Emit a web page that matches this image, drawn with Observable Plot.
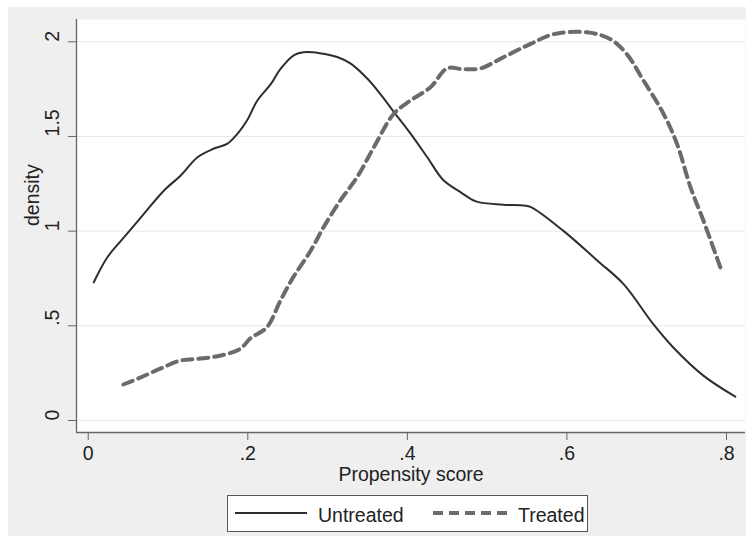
<!DOCTYPE html>
<html>
<head>
<meta charset="utf-8">
<script src="https://cdn.jsdelivr.net/npm/d3@7"></script>
<script src="https://cdn.jsdelivr.net/npm/@observablehq/plot@0.6"></script>
<style>
  html, body { margin: 0; padding: 0; background: #ffffff; }
  #wrap { position: relative; width: 747px; height: 536px; overflow: hidden; font-family: 'Liberation Sans', Arial, sans-serif; }
  #bg { position: absolute; left: 8px; top: 7px; width: 738px; height: 529px; background: #efefef; }
  #chart { position: absolute; left: 0; top: 0; }
  #legend { position: absolute; left: 227px; top: 495px; }
</style>
</head>
<body>
<div id="wrap">
  <div id="bg"></div>
  <div id="chart"></div>
  <svg id="legend" width="361" height="37"></svg>
</div>
<script>
// ---- data ----
const untreatedX = [0.007, 0.024, 0.045, 0.070, 0.095, 0.116, 0.137, 0.157, 0.174, 0.187, 0.199, 0.212, 0.229, 0.241, 0.258, 0.270, 0.290, 0.312, 0.329, 0.350, 0.366, 0.383, 0.404, 0.425, 0.445, 0.467, 0.486, 0.520, 0.546, 0.555, 0.596, 0.638, 0.671, 0.708, 0.733, 0.771, 0.811];
const untreatedY = [0.73, 0.862, 0.968, 1.092, 1.215, 1.294, 1.39, 1.435, 1.461, 1.514, 1.584, 1.69, 1.778, 1.857, 1.93, 1.945, 1.94, 1.92, 1.885, 1.805, 1.725, 1.63, 1.515, 1.39, 1.27, 1.205, 1.157, 1.14, 1.135, 1.127, 1.00, 0.845, 0.72, 0.51, 0.387, 0.237, 0.126];

const treatedX = [0.044, 0.066, 0.091, 0.116, 0.141, 0.166, 0.191, 0.203, 0.224, 0.241, 0.257, 0.279, 0.295, 0.316, 0.337, 0.358, 0.383, 0.404, 0.429, 0.450, 0.470, 0.492, 0.521, 0.555, 0.583, 0.625, 0.654, 0.675, 0.696, 0.721, 0.738, 0.755, 0.771, 0.793];
const treatedY = [0.19, 0.228, 0.275, 0.317, 0.327, 0.343, 0.38, 0.433, 0.493, 0.634, 0.757, 0.898, 1.021, 1.162, 1.285, 1.443, 1.62, 1.69, 1.76, 1.86, 1.855, 1.86, 1.92, 1.99, 2.04, 2.05, 2.015, 1.935, 1.795, 1.62, 1.46, 1.23, 1.056, 0.80];

const seriesNames = ["Untreated", "Treated"];
const xTicks = [0, 0.2, 0.4, 0.6, 0.8];
const xTickLabels = ["0", ".2", ".4", ".6", ".8"];
const yTicks = [0, 0.5, 1, 1.5, 2];
const yTickLabels = ["0", ".5", "1", "1.5", "2"];
const xLabel = "Propensity score";
const yLabel = "density";

// ---- build tables ----
const untreated = untreatedX.map((x, i) => ({x, y: untreatedY[i], group: seriesNames[0]}));
const treated = treatedX.map((x, i) => ({x, y: treatedY[i], group: seriesNames[1]}));

const xDomain = [-0.0147, 0.8238];
const yDomain = [-0.0634, 2.1177];
const FS = 19.5;
const axisColor = "#666666";

const chart = Plot.plot({
  width: 747,
  height: 490,
  marginLeft: 76,
  marginRight: 2,
  marginTop: 19,
  marginBottom: 58,
  x: {domain: xDomain},
  y: {domain: yDomain},
  style: {background: "transparent", fontFamily: "'Liberation Sans', Arial, sans-serif", fontSize: FS + "px", color: "#222222", overflow: "visible"},
  marks: [
    Plot.frame({fill: "white", stroke: "none"}),
    Plot.gridY(yTicks, {stroke: "#e8e8e8", strokeOpacity: 1, strokeWidth: 1}),
    Plot.line(untreated, {x: "x", y: "y", stroke: "#2e2e2e", strokeWidth: 2, curve: "catmull-rom"}),
    Plot.line(treated, {x: "x", y: "y", stroke: "#6b6b6b", strokeWidth: 4, strokeDasharray: "10,6", curve: "catmull-rom"}),
    Plot.ruleX([xDomain[0]], {stroke: axisColor, strokeWidth: 1.3}),
    Plot.ruleY([yDomain[0]], {stroke: axisColor, strokeWidth: 1.3}),
    Plot.axisX({ticks: xTicks, tickFormat: (d) => xTickLabels[xTicks.indexOf(d)], tickSize: 8, tickPadding: 6, fontSize: FS, label: null, stroke: axisColor, fill: "#222222"}),
    Plot.axisY({ticks: yTicks, tickFormat: () => "", tickSize: 8, label: null, stroke: axisColor}),
    Plot.text(yTicks, {y: d => d, text: (d, i) => yTickLabels[i], frameAnchor: "left", rotate: -90, dx: -23.5, fontSize: FS, fill: "#222222"}),
    Plot.text([yLabel], {frameAnchor: "left", rotate: -90, dx: -44, fontSize: FS, fill: "#222222"}),
    Plot.text([xLabel], {frameAnchor: "bottom", lineAnchor: "top", dy: 34.5, fontSize: FS, fill: "#222222"})
  ]
});
document.getElementById("chart").appendChild(chart);

// ---- legend ----
const lg = d3.select("#legend");
lg.append("rect").attr("x", 0.5).attr("y", 0.5).attr("width", 360).attr("height", 36)
  .attr("fill", "white").attr("stroke", "#555555").attr("stroke-width", 1);
lg.append("line").attr("x1", 8).attr("x2", 80).attr("y1", 18).attr("y2", 18)
  .attr("stroke", "#2e2e2e").attr("stroke-width", 2);
lg.append("text").attr("x", 91).attr("y", 26.5).text(seriesNames[0])
  .attr("font-size", FS).attr("fill", "#222222").attr("font-family", "'Liberation Sans', Arial, sans-serif");
lg.append("line").attr("x1", 206).attr("x2", 281).attr("y1", 18).attr("y2", 18)
  .attr("stroke", "#6b6b6b").attr("stroke-width", 4).attr("stroke-dasharray", "10,6");
lg.append("text").attr("x", 291).attr("y", 26.5).text(seriesNames[1])
  .attr("font-size", FS).attr("fill", "#222222").attr("font-family", "'Liberation Sans', Arial, sans-serif");
</script>
</body>
</html>
